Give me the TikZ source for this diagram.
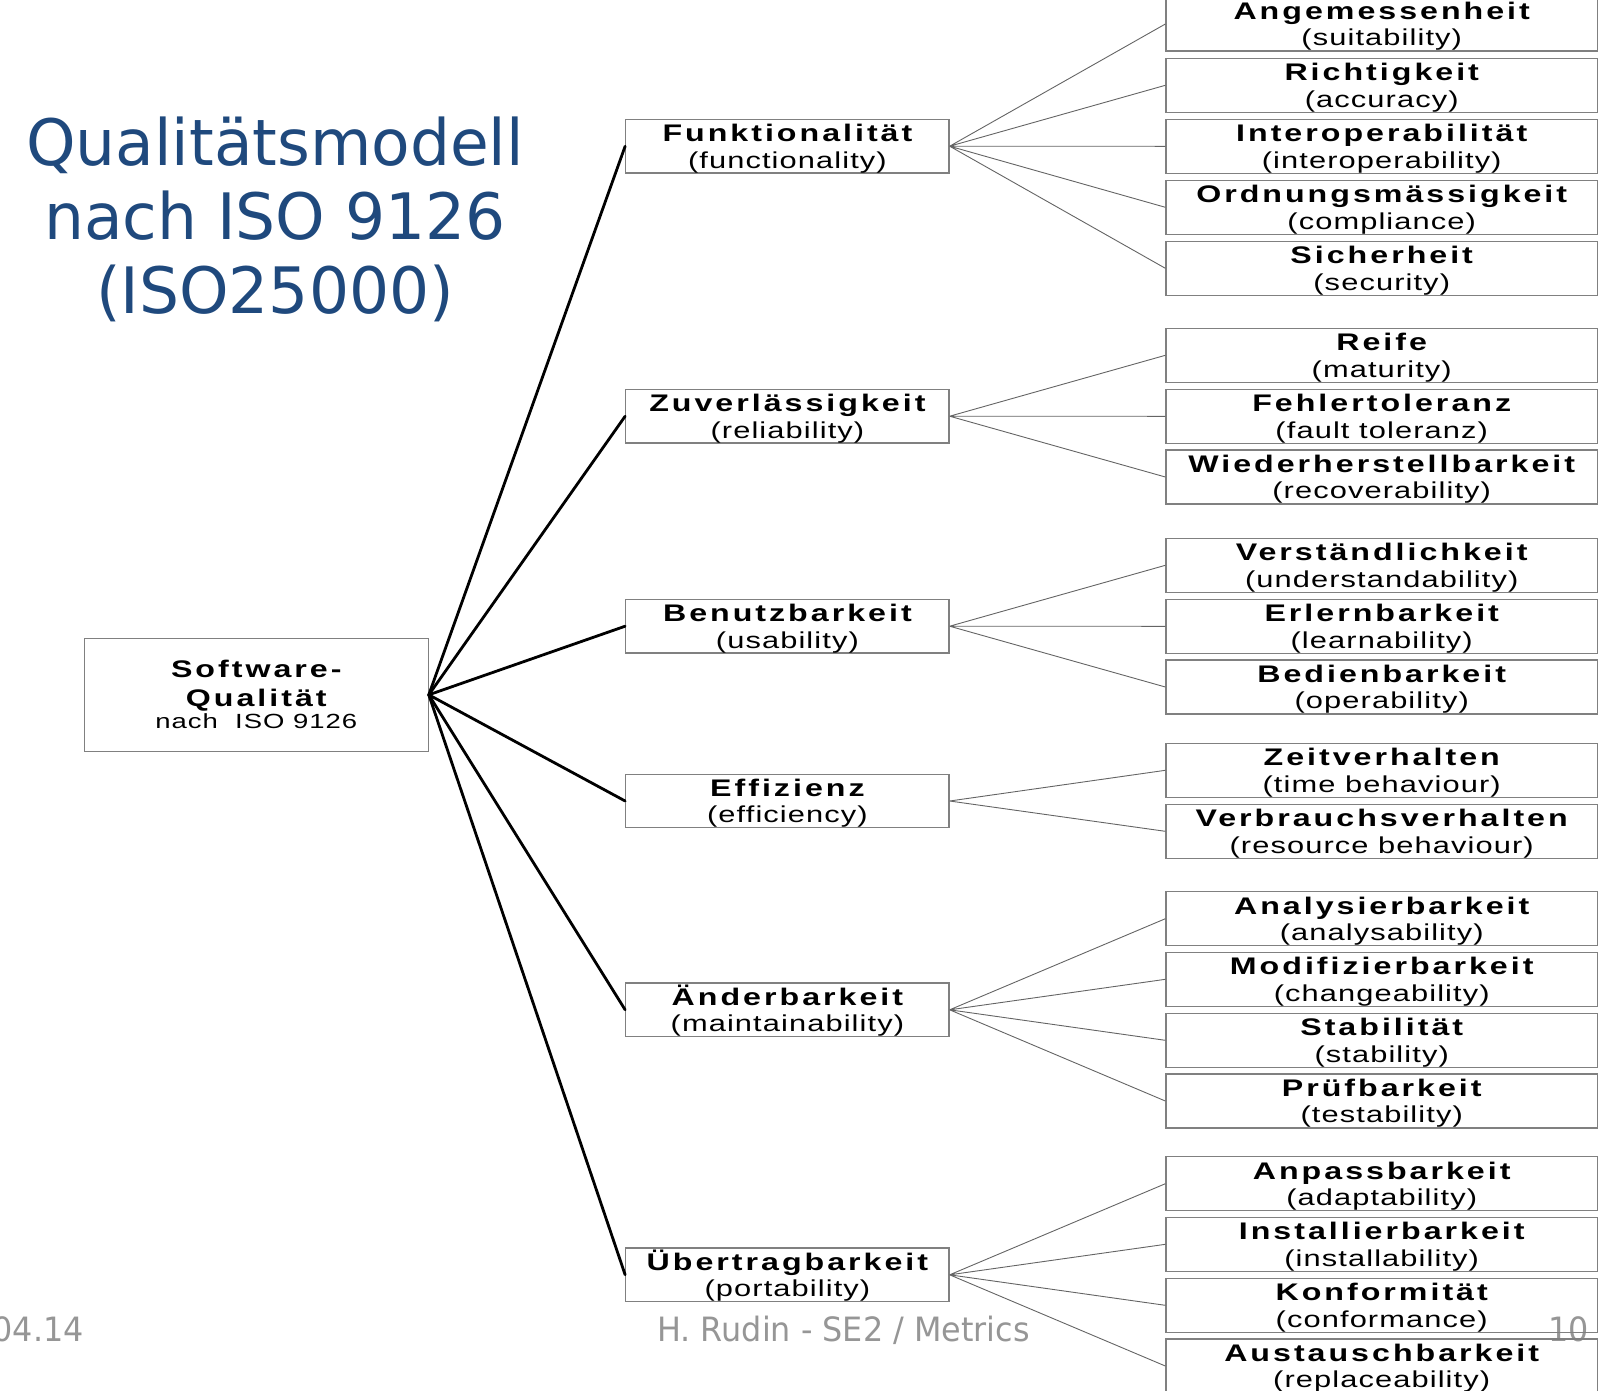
\documentclass[tikz,border=0pt]{standalone}
\usepackage{fontspec}
\setmainfont{Liberation Sans}
\newfontfamily\qbf[FakeStretch=1.34,LetterSpace=12.5]{Liberation Sans}
\newfontfamily\qrm[FakeStretch=1.34,LetterSpace=4.8]{Liberation Sans}
\newfontfamily\ttlfont[FakeStretch=0.985]{DejaVu Sans}
\newfontfamily\ftfont[FakeStretch=0.95]{DejaVu Sans}
\definecolor{boxgray}{RGB}{128,128,128}
\definecolor{linegray}{RGB}{100,100,100}
\definecolor{titleblue}{RGB}{31,73,125}
\definecolor{footgray}{RGB}{150,150,150}
\newcommand\qtext[2]{\rule{0pt}{22pt}{\qbf\bfseries #1}\\{\qrm\fontsize{23}{26.5}\selectfont #2\rule[-4.6pt]{0pt}{4.6pt}}}

\begin{document}
\begin{tikzpicture}[x=1pt,y=-1pt,
  qbox/.style={draw=boxgray,line width=1.2,inner sep=0,align=center,
    font={\fontsize{24}{26.5}\selectfont\lineskiplimit=-\maxdimen}},
  mid/.style={qbox,minimum width=323.3,minimum height=53.7},
  leaf/.style={qbox,minimum width=431.5,minimum height=54},
  root/.style={qbox,minimum width=343.8,minimum height=113.2,
    font={\fontsize{24}{28.8}\selectfont\lineskiplimit=-\maxdimen}},
  mainline/.style={line width=2.8,line cap=round},
  subline/.style={draw=linegray,line width=0.9},
  foot/.style={text=footgray,inner sep=0,font={\ftfont\fontsize{33.5}{40}\selectfont}}]
\useasboundingbox (0,0) rectangle (1614,1390);

\node[foot,anchor=base east] (fdate) at (84,1341) {04.14};
\node[foot,anchor=base] (fname) at (843.5,1341) {H. Rudin - SE2 / Metrics};
\node[foot,anchor=base west] (fpage) at (1548,1341) {10};

\node[anchor=base,align=center,inner sep=0,text=titleblue,
  font={\ttlfont\fontsize{64}{73.8}\selectfont}] (ttl) at (275,313.3)
  {Qualitätsmodell\\nach ISO 9126\\(ISO25000)};

\node[root] (sq) at (256.3,694.8) {\rule{0pt}{20pt}{\qbf\bfseries Software-}\\{\qbf\bfseries Qualität}\\[-6.2pt]{\qrm\fontsize{20.5}{28.8}\selectfont nach~~ISO 9126\rule[-3.8pt]{0pt}{3.8pt}}};

\node[mid] (fu) at (787.4,146.2) {\qtext{Funktionalität}{(functionality)}};
\node[mid] (zu) at (787.4,416.2) {\qtext{Zuverlässigkeit}{(reliability)}};
\node[mid] (be) at (787.4,626.2) {\qtext{Benutzbarkeit}{(usability)}};
\node[mid] (ef) at (787.4,801) {\qtext{Effizienz}{(efficiency)}};
\node[mid] (ae) at (787.4,1009.8) {\qtext{Änderbarkeit}{(maintainability)}};
\node[mid] (ue) at (787.4,1274.8) {\qtext{Übertragbarkeit}{(portability)}};

\node[leaf] (fu1) at (1381.7,24) {\qtext{Angemessenheit}{(suitability)}};
\node[leaf] (fu2) at (1381.7,85.3) {\qtext{Richtigkeit}{(accuracy)}};
\node[leaf] (fu3) at (1381.7,146.3) {\qtext{Interoperabilität}{(interoperability)}};
\node[leaf] (fu4) at (1381.7,207.3) {\qtext{Ordnungsmässigkeit}{(compliance)}};
\node[leaf] (fu5) at (1381.7,268.3) {\qtext{Sicherheit}{(security)}};
\node[leaf] (zu1) at (1381.7,355.3) {\qtext{Reife}{(maturity)}};
\node[leaf] (zu2) at (1381.7,416.3) {\qtext{Fehlertoleranz}{(fault toleranz)}};
\node[leaf] (zu3) at (1381.7,477) {\qtext{Wiederherstellbarkeit}{(recoverability)}};
\node[leaf] (be1) at (1381.7,565.3) {\qtext{Verständlichkeit}{(understandability)}};
\node[leaf] (be2) at (1381.7,626.3) {\qtext{Erlernbarkeit}{(learnability)}};
\node[leaf] (be3) at (1381.7,687) {\qtext{Bedienbarkeit}{(operability)}};
\node[leaf] (ef1) at (1381.7,770.3) {\qtext{Zeitverhalten}{(time behaviour)}};
\node[leaf] (ef2) at (1381.7,831.3) {\qtext{Verbrauchsverhalten}{(resource behaviour)}};
\node[leaf] (ae1) at (1381.7,918.7) {\qtext{Analysierbarkeit}{(analysability)}};
\node[leaf] (ae2) at (1381.7,979.3) {\qtext{Modifizierbarkeit}{(changeability)}};
\node[leaf] (ae3) at (1381.7,1040.3) {\qtext{Stabilität}{(stability)}};
\node[leaf] (ae4) at (1381.7,1101) {\qtext{Prüfbarkeit}{(testability)}};
\node[leaf] (ue1) at (1381.7,1183.7) {\qtext{Anpassbarkeit}{(adaptability)}};
\node[leaf] (ue2) at (1381.7,1244.3) {\qtext{Installierbarkeit}{(installability)}};
\node[leaf] (ue3) at (1381.7,1305.3) {\qtext{Konformität}{(conformance)}};
\node[leaf] (ue4) at (1381.7,1366) {\qtext{Austauschbarkeit}{(replaceability)}};

\draw[mainline] (sq.east) -- (fu.west);
\draw[mainline] (sq.east) -- (zu.west);
\draw[mainline] (sq.east) -- (be.west);
\draw[mainline] (sq.east) -- (ef.west);
\draw[mainline] (sq.east) -- (ae.west);
\draw[mainline] (sq.east) -- (ue.west);

\draw[subline] (fu.east) -- (fu1.west) (fu.east) -- (fu2.west) (fu.east) -- (fu3.west)
  (fu.east) -- (fu4.west) (fu.east) -- (fu5.west);
\draw[subline] (zu.east) -- (zu1.west) (zu.east) -- (zu2.west) (zu.east) -- (zu3.west);
\draw[subline] (be.east) -- (be1.west) (be.east) -- (be2.west) (be.east) -- (be3.west);
\draw[subline] (ef.east) -- (ef1.west) (ef.east) -- (ef2.west);
\draw[subline] (ae.east) -- (ae1.west) (ae.east) -- (ae2.west) (ae.east) -- (ae3.west)
  (ae.east) -- (ae4.west);
\draw[subline] (ue.east) -- (ue1.west) (ue.east) -- (ue2.west) (ue.east) -- (ue3.west)
  (ue.east) -- (ue4.west);
\end{tikzpicture}
\end{document}
